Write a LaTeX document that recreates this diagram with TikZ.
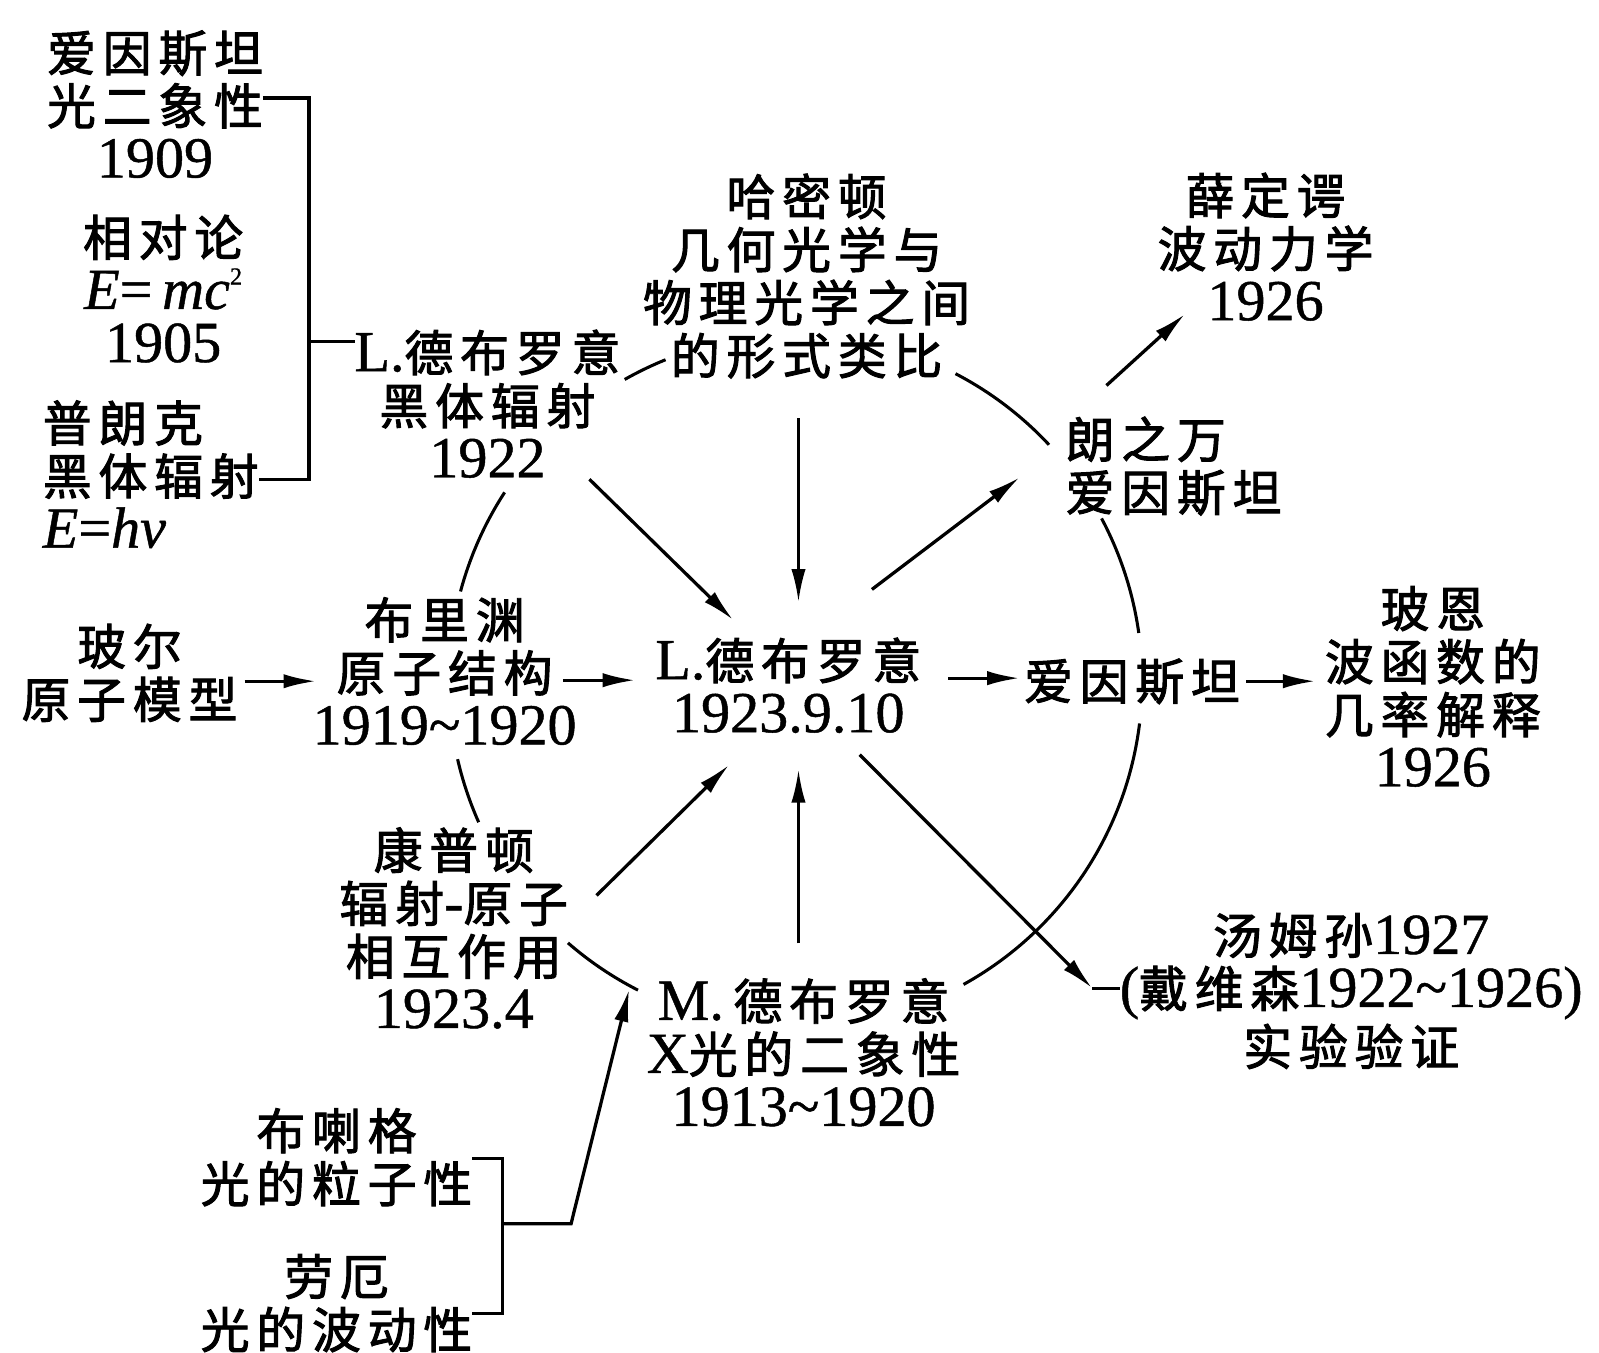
\documentclass[tikz,border=0pt]{standalone}
\usepackage{fontspec}
\setmainfont{Liberation Serif}[FakeBold=0.8]
\newfontfamily\cjk{Noto Sans CJK SC}[Scale=0.84,LetterSpace=14,FakeBold=2]
\usetikzlibrary{arrows.meta,calc}
\newcommand\zh[1]{{\cjk #1}}
\newcommand\strt{\rule[-8pt]{0pt}{52pt}}
\newcommand\sqr{\raisebox{24pt}{\fontsize{24}{24}\selectfont 2}}
\tikzset{
  lbl/.style={inner sep=0pt, outer sep=0pt, align=center, font=\fontsize{57}{52}\selectfont},
  lbll/.style={lbl, align=left, anchor=west},
  arr/.style={-{Latex[length=32pt,width=14pt]}},
}
\begin{document}
\begin{tikzpicture}[x=1pt,y=1pt,line width=3.2pt]
\useasboundingbox (0,0) rectangle (1568,-1326);
\fill[white] (0,0) rectangle (1568,-1326);

% nodes
\node[lbl] (ein1) at (152,-104) {\strt\zh{爱因斯坦}\\\strt\zh{光二象性}\\\strt 1909};
\node[lbl] (rel) at (160,-285) {\strt\zh{相对论}\\\strt\textit{E}=\,\textit{mc}\sqr\\\strt 1905};
\node[lbll] (planck) at (42,-467) {\strt\zh{普朗克}\\\strt\zh{黑体辐射}\\\strt\textit{E}=\textit{hν}};
\node[lbl] (ldb22) at (478,-398) {\strt L.\zh{德布罗意}\\\strt\zh{黑体辐射}\\\strt 1922};
\node[lbl] (ham) at (791,-271) {\strt\zh{哈密顿}\\\strt\zh{几何光学与}\\\strt\zh{物理光学之间}\\\strt\zh{的形式类比}};
\node[lbl] (sch) at (1241,-244) {\strt\zh{薛定谔}\\\strt\zh{波动力学}\\\strt 1926};
\node[lbll] (lang) at (1045,-457) {\strt\zh{朗之万}\\\strt\zh{爱因斯坦}};
\node[lbl] (bohr) at (127,-660) {\strt\zh{玻尔}\\\strt\zh{原子模型}};
\node[lbl] (bri) at (436,-660) {\strt\zh{布里渊}\\\strt\zh{原子结构}\\\strt 1919\textasciitilde 1920};
\node[lbl] (ctr) at (773,-674) {\strt L.\zh{德布罗意}\\\strt 1923.9.10};
\node[lbl] (ein2) at (1110,-668) {\strt\zh{爱因斯坦}};
\node[lbl] (born) at (1405,-675) {\strt\zh{玻恩}\\\strt\zh{波函数的}\\\strt\zh{几率解释}\\\strt 1926};
\node[lbl] (comp) at (445,-912) {\strt\zh{康普顿}\\\strt\zh{辐射}-\zh{原子}\\\strt\zh{相互作用}\\\strt 1923.4};
\node[lbl] (mdb) at (788,-1034) {\strt M.\,\zh{德布罗意}\\\strt X\zh{光的二象性}\\\strt 1913\textasciitilde 1920};
\node[lbl] (thom) at (1325,-972) {\strt\zh{汤姆孙}1927\\\strt(\zh{戴维森}1922\textasciitilde 1926)\\\strt\zh{实验验证}};
\node[lbl] (bragg) at (330,-1135) {\strt\zh{布喇格}\\\strt\zh{光的粒子性}};
\node[lbl] (laue) at (330,-1278) {\strt\zh{劳厄}\\\strt\zh{光的波动性}};

% top-left bracket
\coordinate (tbT) at (303,-96);
\coordinate (tbB) at (303,-470);
\coordinate (tbM) at (303,-335);
\draw (ein1.east |- tbT) -- (tbT) -- (tbB) -- (planck.east |- tbB);
\draw (tbM) -- (ldb22.west |- tbM);

% bottom bracket
\coordinate (bbT) at (493,-1136);
\coordinate (bbB) at (493,-1288);
\coordinate (bbM) at (493,-1200);
\coordinate (bbK) at (560,-1200);
\draw (bragg.east |- bbT) -- (bbT) -- (bbB) -- (laue.east |- bbB);
\draw[arr] (bbM) -- (bbK) -- ([shift={(-171,64)}]mdb.center);

% circle arcs
\coordinate (O) at (780,-668);
\foreach \a/\b in {119.5/112, 62.5/43, 28/8, -7/-61, 243/229, 204/193, 165/147}
  \draw[line width=3pt] (O) ++(\a:340) arc[start angle=\a, end angle=\b, radius=340];

% arrows
\draw[arr] ([shift={(100,-72)}]ldb22.center) -- ([shift={(-54,66)}]ctr.center);
\draw[arr,line width=2.6pt] ([shift={(-8,-139)}]ham.center) -- ([shift={(10,84)}]ctr.center);
\draw[arr] ([shift={(82,96)}]ctr.center) -- ([shift={(-45,-11)}]lang.west);
\draw[arr] ([shift={(157,9)}]ctr.center) -- ([shift={(-110,3)}]ein2.center);
\draw[arr] ([shift={(112,0)}]ein2.center) -- ([shift={(-115,7)}]born.center);
\draw[arr] ([shift={(40,79)}]lang.west) -- ([shift={(-79,-64)}]sch.center);
\draw[arr] ([shift={(113,-8)}]bohr.center) -- ([shift={(-126,-8)}]bri.center);
\draw[arr] ([shift={(116,-7)}]bri.center) -- ([shift={(-150,7)}]ctr.center);
\draw[arr] ([shift={(140,34)}]comp.center) -- ([shift={(-58,-76)}]ctr.center);
\draw[arr,line width=2.6pt] ([shift={(-5,109)}]mdb.center) -- ([shift={(10,-81)}]ctr.center);
\coordinate (tb) at ([shift={(-254,3)}]thom.center);
\draw[arr] ([shift={(70,-66)}]ctr.center) -- (tb);
\draw (tb) -- ([shift={(-227,3)}]thom.center);
\end{tikzpicture}
\end{document}
